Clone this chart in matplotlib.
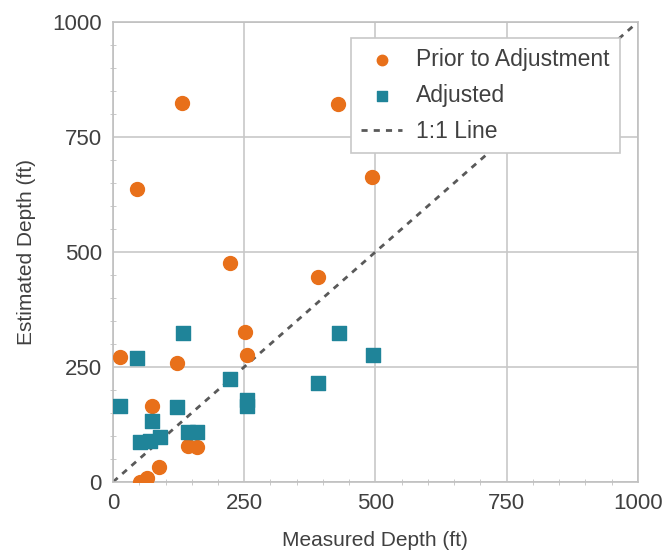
import matplotlib.pyplot as plt
from matplotlib.ticker import MultipleLocator

plt.rcParams['font.family'] = ['Liberation Sans', 'DejaVu Sans']

# measured vs estimated depth (ft)
prior_x = [13, 46, 131, 429, 494, 222, 390, 251, 255, 122, 74, 143, 160, 88, 51, 65]
prior_y = [272, 638, 823, 822, 662, 475, 446, 326, 276, 259, 165, 78, 76, 33, 0, 9]

adj_x = [13, 46, 133, 430, 495, 223, 390, 255, 255, 122, 74, 51, 70, 90, 143, 160]
adj_y = [165, 270, 324, 324, 276, 224, 215, 178, 165, 163, 133, 87, 89, 98, 109, 109]

line_x = [0, 1000]
line_y = [0, 1000]

txt = '#404040'
orange = '#E8701A'
teal = '#1F8499'

fig = plt.figure(figsize=(6.65, 5.52), dpi=100)
ax = fig.add_axes([0.17, 0.127, 0.789, 0.833])

ax.plot(line_x, line_y, ls=(0, (2.2, 2.2)), color='#595959', lw=2, label='1:1 Line', zorder=2)
ax.scatter(prior_x, prior_y, s=100, marker='o', color=orange, label='Prior to Adjustment', zorder=3)
ax.scatter(adj_x, adj_y, s=95, marker='s', color=teal, label='Adjusted', zorder=3)

ax.set_xlim(0, 1000)
ax.set_ylim(0, 1000)
ax.xaxis.set_major_locator(MultipleLocator(250))
ax.yaxis.set_major_locator(MultipleLocator(250))
ax.xaxis.set_minor_locator(MultipleLocator(50))
ax.yaxis.set_minor_locator(MultipleLocator(50))
ax.grid(True, which='major', color='#C8C8C8', lw=1.2)
ax.set_axisbelow(True)
for sp in ax.spines.values():
    sp.set_color('#C0C0C0')
    sp.set_linewidth(1.2)
ax.tick_params(which='major', length=0, labelsize=16, labelcolor=txt, pad=8)
ax.tick_params(which='minor', length=4, color='#C0C0C0', direction='inout')

ax.set_xlabel('Measured Depth (ft)', fontsize=15, color=txt, labelpad=12)
ax.set_ylabel('Estimated Depth (ft)', fontsize=15, color=txt, labelpad=12)

handles, labels = ax.get_legend_handles_labels()
order = [1, 2, 0]
leg = ax.legend([handles[i] for i in order], [labels[i] for i in order],
                loc='upper right', bbox_to_anchor=(0.988, 0.99), fontsize=16.5,
                fancybox=False, framealpha=1, edgecolor='#C8C8C8',
                handlelength=1.8, markerscale=0.75, labelspacing=0.55,
                borderpad=0.45, handletextpad=0.6)
leg.get_frame().set_linewidth(1.2)
for t in leg.get_texts():
    t.set_color(txt)
leg.set_zorder(5)

fig.savefig('out.png', dpi=100)
